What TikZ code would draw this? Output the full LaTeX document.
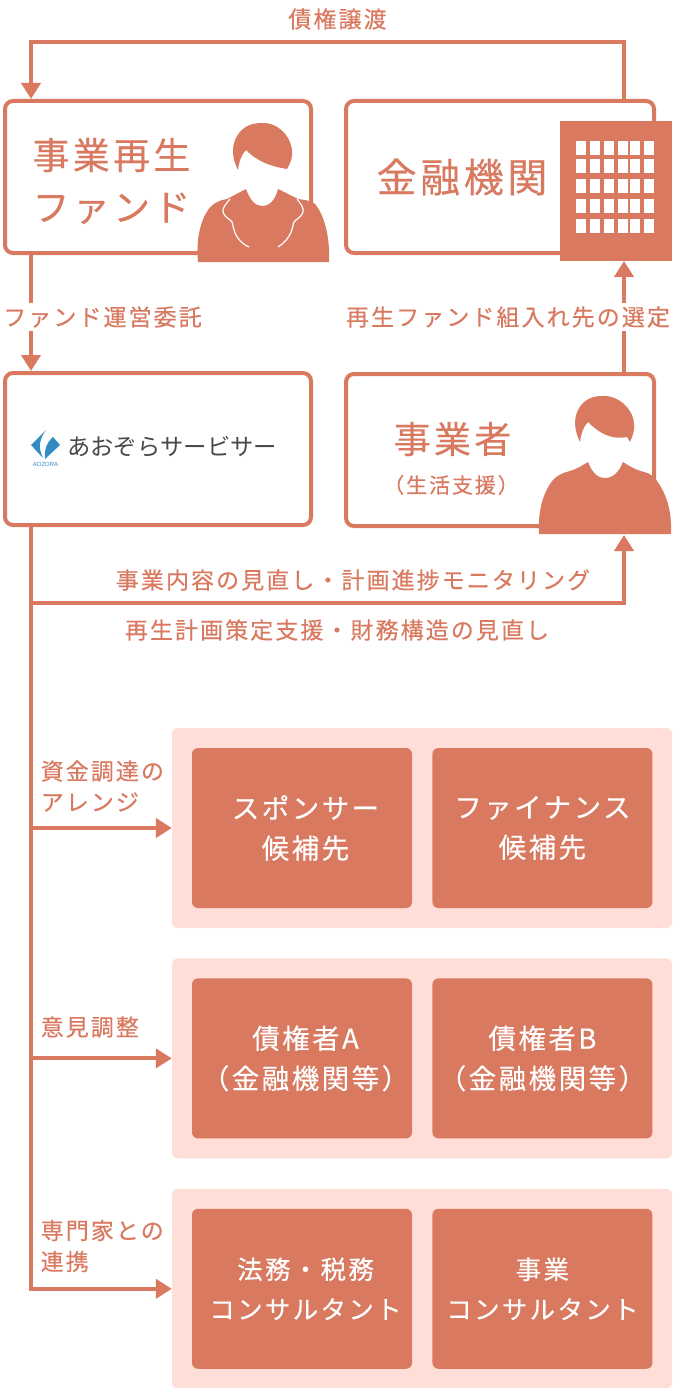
\documentclass[tikz,border=0pt]{standalone}
\usepackage{fontspec}
\usetikzlibrary{arrows.meta,positioning}
\newfontfamily\jpfont[LetterSpace=9,FakeBold=0.3]{Noto Sans CJK JP}
\newfontfamily\jplogo{Noto Sans CJK JP}
\setsansfont{Liberation Sans}
\newcommand{\colpad}{\hspace*{7pt}}

\begin{document}
\begin{tikzpicture}[
    x=1pt,
    y=-1pt,
    >={Triangle[width=19pt,length=16pt]},
    font=\jpfont,
    flow/.style={
        draw=aozorared,
        line width=4pt
    },
    actor/.style={
        draw=aozorared,
        fill=white,
        line width=4pt,
        rounded corners=8pt,
        minimum width=306pt,
        minimum height=152pt
    },
    title/.style={
        text=aozorared,
        font=\jpfont\fontsize{37}{52}\selectfont,
        align=left,
        inner sep=0pt
    },
    tag/.style={
        text=aozorared,
        font=\jpfont\fontsize{23}{31}\selectfont,
        align=left,
        inner sep=0pt
    },
    band/.style={
        fill=aozorapink,
        rounded corners=6pt,
        minimum width=500pt,
        minimum height=200pt,
        inner sep=0pt
    },
    party/.style={
        fill=aozorared,
        text=white,
        rounded corners=6pt,
        minimum width=220pt,
        minimum height=160pt,
        inner sep=0pt,
        align=center,
        execute at begin node={\rule{0pt}{33pt}},
        font=\jpfont\fontsize{27.5}{40}\selectfont
    },
    smallparty/.style={
        party,
        font=\jpfont\fontsize{25.5}{40}\selectfont
    }
]

\definecolor{aozorared}{RGB}{216,121,96}
\definecolor{aozorapink}{RGB}{255,222,216}
\definecolor{aozorablue}{RGB}{52,138,194}
\definecolor{aozoragray}{RGB}{72,72,72}

\useasboundingbox (0,0) rectangle (672,1388);

% actors
\node[actor] (fund) at (158,177) {};
\node[actor, right=31pt of fund, minimum width=308pt] (bank) {};
\node[actor, below=116pt of fund] (aozora) {};
\node[actor, below=117pt of bank, minimum width=308pt] (biz) {};

\node[fill=aozorared, minimum width=112pt, minimum height=140pt, inner sep=0pt, outer sep=0pt] (building) at (616,191) {};

% bands with parties
\node[band] (bandA) at (422,828) {};
\node[band, below=30pt of bandA] (bandB) {};
\node[band, below=30pt of bandB] (bandC) {};

\node[party] (sponsor) at (302,828) {\colpad スポンサー\\\colpad 候補先};
\node[party, right=20pt of sponsor] (finance) {ファイナンス\\候補先};
\node[party, below=70pt of sponsor] (creditorA) {\colpad 債権者A\\\colpad （金融機関等）};
\node[party, right=20pt of creditorA] (creditorB) {債権者B\\（金融機関等）};
\node[smallparty, below=70pt of creditorA] (legal) {\colpad 法務・税務\\\colpad コンサルタント};
\node[smallparty, right=20pt of legal] (advisor) {事業\\コンサルタント};

% connector ends
\coordinate (fundin) at ([xshift=-127pt]fund.north);
\coordinate (fundout) at ([xshift=-127pt]fund.south);
\coordinate (bankup) at ([xshift=124pt]bank.north);
\coordinate (bizup) at ([xshift=124pt]biz.north);
\coordinate (aozorain) at ([xshift=-127pt]aozora.north);
\coordinate (trunk) at ([xshift=-127pt]aozora.south);
\coordinate (debtline) at (31,42);
\coordinate (bizfoot) at (624,535);
\coordinate (monitor) at (31,603);

\draw[flow, ->] (bankup) |- (debtline) -- (fundin);
\draw[flow, ->] (fundout) -- (aozorain);
\draw[flow, ->] (bizup) -- (bizup |- building.south);
\draw[flow, ->] (trunk) -- (monitor) -| (bizfoot);
\draw[flow, ->] (trunk) |- (bandA.west);
\draw[flow, ->] (trunk) |- (bandB.west);
\draw[flow, ->] (trunk) |- (bandC.west);

% building windows
\foreach \wx in {576,590,604,618,630,644} {
    \foreach \wy in {141,159,179,199,219} {
        \fill[white] (\wx,\wy) rectangle ++(10,14);
    }
}

% woman
\fill[aozorared] (238,170) .. controls (232,158) and (231,146) .. (237,136) .. controls (243,126) and (252,123) .. (262,123) .. controls (276,122) and (290,134) .. (292,150) .. controls (293,158) and (290,164) .. (287,169) .. controls (270,166) and (258,162) .. (246,150) .. controls (241,155) and (239,162) .. (238,170) -- cycle;
\fill[aozorared] (198,262) .. controls (196,240) and (200,222) .. (208,210) .. controls (213,203) and (220,200) .. (227,199) -- (246,189) .. controls (250,200) and (255,206) .. (262,206) .. controls (270,206) and (275,200) .. (278,189) -- (298,199) .. controls (306,200) and (312,201) .. (315,204) .. controls (325,216) and (330,238) .. (329,262) -- cycle;
\draw[white, line width=1.2pt] (230,199) .. controls (226,204) and (222,208) .. (223,212) .. controls (224,217) and (230,219) .. (232,222) .. controls (234,228) and (234,240) .. (249,247);
\draw[white, line width=1.2pt] (297,199) .. controls (301,204) and (304,208) .. (303,212) .. controls (302,217) and (296,219) .. (294,222) .. controls (292,228) and (292,238) .. (278,247);

% man
\fill[aozorared] (580,442) .. controls (575,432) and (573,420) .. (578,410) .. controls (583,400) and (592,396) .. (602,396) .. controls (618,395) and (633,408) .. (634,424) .. controls (635,431) and (632,437) .. (630,442) -- (627,437) .. controls (612,440) and (600,434) .. (588,422) .. controls (583,427) and (581,434) .. (580,442) -- cycle;
\fill[aozorared] (539,534) .. controls (538,512) and (542,497) .. (550,484) .. controls (555,476) and (562,473) .. (570,471) .. controls (577,469) and (583,465) .. (588,462) .. controls (592,472) and (597,478) .. (605,478) .. controls (613,478) and (619,472) .. (623,462) .. controls (629,466) and (636,470) .. (644,472) .. controls (650,473) and (654,477) .. (657,481) .. controls (667,495) and (672,512) .. (671,534) -- cycle;

% logo
\fill[aozorablue] (46,430) -- (31,445) -- (43,458) .. controls (38,448) and (39,440) .. (46,430) -- cycle;
\fill[aozorablue] (53,437) -- (60,445) -- (45,459) .. controls (44,450) and (47,442) .. (53,437) -- cycle;
\node[text=aozorablue, font=\sffamily\fontsize{6}{6}\selectfont, inner sep=0pt] (logotag) at (45.5,464.5) {AOZORA};
\node[text=aozoragray, font=\jplogo\fontsize{23.3}{26}\selectfont, inner sep=0pt, anchor=west] (logoname) at (67,447) {あおぞらサービサー};

% titles
\node[title] (fundname) at (111.5,181) {事業再生\\ファンド};
\node[title, font=\jpfont\fontsize{40}{52}\selectfont] (bankname) at (462,177) {金融機関};
\node[title, align=center] (bizname) at (452.5,439) {事業者};
\node[title, font=\jpfont\fontsize{21}{26}\selectfont] (bizsub) at (451,485) {（生活支援）};

% flow labels
\node[tag] (debtlabel) at (337.5,19) {債権譲渡};
\node[tag, fill=white, inner ysep=3pt, inner xsep=1pt] (fundlabel) at (102.5,317) {ファンド運営委託};
\node[tag, fill=white, inner ysep=3pt, inner xsep=1pt] (selectlabel) at (508,317) {再生ファンド組入れ先の選定};
\node[tag] (monitorlabel) at (353,580) {事業内容の見直し・計画進捗モニタリング};
\node[tag] (planlabel) at (337,630) {再生計画策定支援・財務構造の見直し};
\node[tag, anchor=west] (fundinglabel) at (40.5,786) {資金調達の\\アレンジ};
\node[tag, anchor=west] (opinionlabel) at (40.5,1027) {意見調整};
\node[tag, anchor=west] (expertlabel) at (40.5,1246) {専門家との\\連携};

\end{tikzpicture}
\end{document}
